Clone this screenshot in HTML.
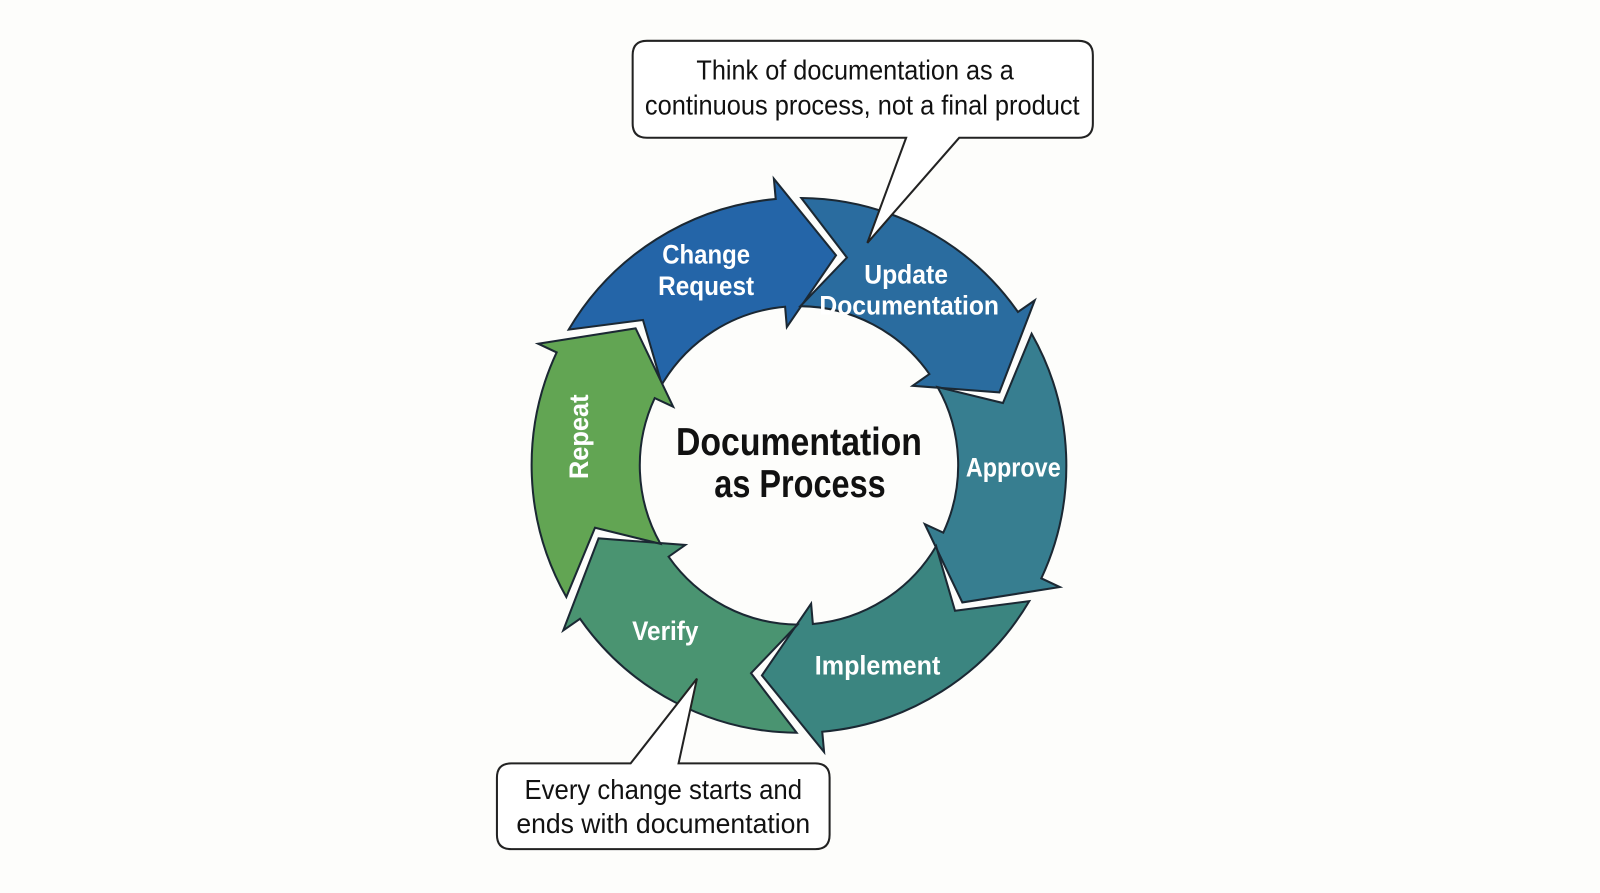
<!DOCTYPE html>
<html><head><meta charset="utf-8">
<style>
html,body{margin:0;padding:0;background:#fdfdfb;}
body{width:1600px;height:893px;overflow:hidden;position:relative;font-family:"Liberation Sans",sans-serif;}
svg{position:absolute;left:0;top:0;}
</style></head>
<body>
<svg id="s" width="1600" height="893" viewBox="0 0 1568 875" preserveAspectRatio="none" xmlns="http://www.w3.org/2000/svg">
<g id="arrows"></g>
<g font-family="Liberation Sans, sans-serif" font-weight="bold" fill="#fff" font-size="26" text-anchor="middle" lengthAdjust="spacingAndGlyphs">
<text x="692" y="258" textLength="86" lengthAdjust="spacingAndGlyphs">Change</text>
<text x="692" y="289" textLength="94" lengthAdjust="spacingAndGlyphs">Request</text>
<text x="888" y="278" textLength="82" lengthAdjust="spacingAndGlyphs">Update</text>
<text x="891" y="308" textLength="176" lengthAdjust="spacingAndGlyphs">Documentation</text>
<text x="993" y="467" textLength="93" lengthAdjust="spacingAndGlyphs">Approve</text>
<text x="860" y="661" textLength="123" lengthAdjust="spacingAndGlyphs">Implement</text>
<text x="652" y="627" textLength="65" lengthAdjust="spacingAndGlyphs">Verify</text>
<text x="0" y="0" transform="translate(576,428) rotate(-90)" textLength="83" lengthAdjust="spacingAndGlyphs">Repeat</text>
</g>
<g font-family="Liberation Sans, sans-serif" font-weight="bold" fill="#111" font-size="38" text-anchor="middle">
<text x="783" y="446" textLength="241" lengthAdjust="spacingAndGlyphs">Documentation</text>
<text x="784" y="487" textLength="168" lengthAdjust="spacingAndGlyphs">as Process</text>
</g>
<path d="M634,40 H1057 Q1071,40 1071,54 V121 Q1071,135 1057,135 H940 L850,238 L888,135 H634 Q620,135 620,121 V54 Q620,40 634,40 Z" fill="#fff" stroke="#222" stroke-width="2"/>
<path d="M501,748 H618 L683,665 L665,748 H799 Q813,748 813,762 V818 Q813,832 799,832 H501 Q487,832 487,818 V762 Q487,748 501,748 Z" fill="#fff" stroke="#222" stroke-width="2"/>
<g font-family="Liberation Sans, sans-serif" fill="#111" font-size="27" text-anchor="middle">
<text x="838" y="78" textLength="311" lengthAdjust="spacingAndGlyphs">Think of documentation as a</text>
<text x="845" y="112" textLength="426" lengthAdjust="spacingAndGlyphs">continuous process, not a final product</text>
<text x="650" y="783" textLength="272" lengthAdjust="spacingAndGlyphs">Every change starts and</text>
<text x="650" y="816" textLength="288" lengthAdjust="spacingAndGlyphs">ends with documentation</text>
</g>
</svg>
<script>
(function(){
var cx=783,cy=456,R=262,r=156,mid=(R+r)/2;
var cols=["#2465a8","#2a6c9f","#377e90","#3b8580","#4a9471","#62a553"];
function P(a,rad){var t=a*Math.PI/180;return (cx+rad*Math.cos(t)).toFixed(1)+","+(cy+rad*Math.sin(t)).toFixed(1);}
var g=document.getElementById("arrows"),h="";
for(var i=0;i<6;i++){
 var T=-80+60*i, e=T-15, Tp=T-60, ep=Tp-15;
 var s=ep+5.5, n=Tp+3;
 var d="M"+P(s,R)+" A"+R+","+R+" 0 0 1 "+P(e,R)+" L"+P(e,R+20)+" L"+P(T,mid)+" L"+P(e,r-20)+" L"+P(e,r)+" A"+r+","+r+" 0 0 0 "+P(s,r)+" L"+P(n,mid)+" Z";
 h+='<path d="'+d+'" fill="'+cols[i]+'" stroke="#1b2833" stroke-width="2" stroke-linejoin="miter"/>';
}
g.innerHTML=h;
})();
</script>
</body></html>
